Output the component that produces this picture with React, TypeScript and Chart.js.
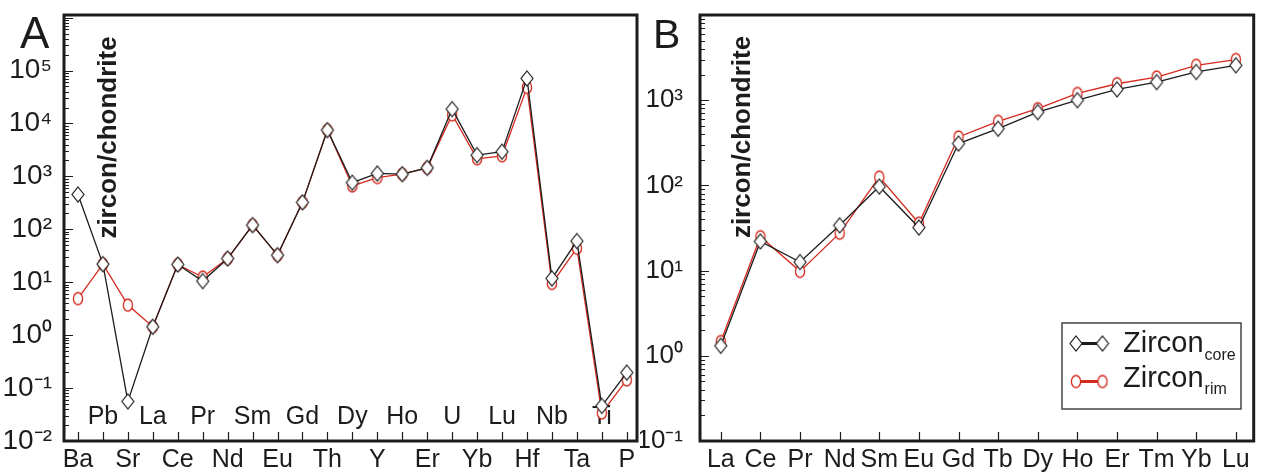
import React, { useEffect, useRef } from "react";
import { Chart, registerables } from "chart.js";
Chart.register(...registerables);

const FONT = '"Liberation Sans", Arial, Helvetica, sans-serif';
const INK = "#1c1c1c";
const RED = "#d42a1e";

// ---------- Panel A data ----------
const elementsA = ["Ba", "Pb", "Sr", "La", "Ce", "Pr", "Nd", "Sm", "Eu", "Gd", "Th", "Dy", "Y", "Ho", "Er", "U", "Yb", "Lu", "Hf", "Nb", "Ta", "Ti", "P"];
const coreA = [455, 22, 0.056, 1.44, 21.6, 10.5, 28, 120, 32.5, 323, 7500, 760, 1135, 1100, 1450, 18700, 2520, 2920, 71000, 11.8, 60, 0.046, 0.196];
const rimA = [4.9, 22, 3.7, 1.44, 21.6, 12.5, 28, 120, 32.5, 323, 7500, 660, 950, 1100, 1450, 14600, 2150, 2450, 48000, 9.5, 44, 0.034, 0.143];
const yExpA = [-2, -1, 0, 1, 2, 3, 4, 5];

// ---------- Panel B data ----------
const elementsB = ["La", "Ce", "Pr", "Nd", "Sm", "Eu", "Gd", "Tb", "Dy", "Ho", "Er", "Tm", "Yb", "Lu"];
const coreB = [1.31, 22, 12.6, 34, 97, 32, 310, 463, 725, 1000, 1340, 1630, 2150, 2570];
const rimB = [1.47, 25, 9.8, 27.5, 125, 36, 370, 565, 795, 1200, 1560, 1870, 2570, 3000];
const yExpB = [-1, 0, 1, 2, 3];

const yTitle = "zircon/chondrite";
const seriesNames = ["Zircon", "Zircon"];
const seriesSubs = ["core", "rim"];

const SUP: Record<string, string> = { "-": "⁻", "0": "⁰", "1": "¹", "2": "²", "3": "³", "4": "⁴", "5": "⁵", "6": "⁶" };
const powLabel = (e: number) => "10" + String(e).split("").map((c) => SUP[c]).join("");

function makeDiamond(w = 12, h = 15, lw = 1.2): HTMLCanvasElement {
  const c = document.createElement("canvas");
  const pad = 2;
  c.width = w + pad * 2;
  c.height = h + pad * 2;
  const g = c.getContext("2d")!;
  const cx = c.width / 2, cy = c.height / 2;
  g.beginPath();
  g.moveTo(cx, cy - h / 2);
  g.lineTo(cx + w / 2, cy);
  g.lineTo(cx, cy + h / 2);
  g.lineTo(cx - w / 2, cy);
  g.closePath();
  g.fillStyle = "#ffffff";
  g.fill();
  g.lineWidth = lw;
  g.strokeStyle = INK;
  g.stroke();
  return c;
}

function makeRing(rx = 4.6, ry = 6, lw = 1.3): HTMLCanvasElement {
  const c = document.createElement("canvas");
  c.width = Math.ceil(rx * 2 + 4);
  c.height = Math.ceil(ry * 2 + 4);
  const g = c.getContext("2d")!;
  g.beginPath();
  g.ellipse(c.width / 2, c.height / 2, rx, ry, 0, 0, Math.PI * 2);
  g.fillStyle = "#ffffff";
  g.fill();
  g.lineWidth = lw;
  g.strokeStyle = RED;
  g.stroke();
  return c;
}

type Panel = {
  key: string;
  elements: string[];
  core: number[];
  rim: number[];
  yExps: number[];
  yMin: number;
  yMax: number;
  xMin: number;
  xMax: number;
  canvasLeft: number;
  canvasWidth: number;
  plotLeft: number;
  plotRight: number;
  yTickPad: number;
  yFont: number;
  alternate: boolean;
  innerLabelY: number;
  letter: { text: string; x: number; y: number; size: number };
  title: { x: number; y: number };
  legend: boolean;
};

const panelA: Panel = {
  key: "A",
  elements: elementsA,
  core: coreA,
  rim: rimA,
  yExps: yExpA,
  yMin: 0.01,
  yMax: 1.12e6,
  xMin: -0.56,
  xMax: 22.41,
  canvasLeft: 0,
  canvasWidth: 650,
  plotLeft: 64,
  plotRight: 637,
  yTickPad: 12,
  yFont: 28,
  alternate: true,
  innerLabelY: 417,
  letter: { text: "A", x: 20, y: 48, size: 44 },
  title: { x: 116, y: 137.5 },
  legend: false,
};

const panelB: Panel = {
  key: "B",
  elements: elementsB,
  core: coreB,
  rim: rimB,
  yExps: yExpB,
  yMin: 0.1,
  yMax: 1e4,
  xMin: -0.525,
  xMax: 13.45,
  canvasLeft: 640,
  canvasWidth: 621,
  plotLeft: 700,
  plotRight: 1259,
  yTickPad: 17,
  yFont: 26,
  alternate: false,
  innerLabelY: 417,
  letter: { text: "B", x: 653, y: 48, size: 41 },
  title: { x: 750, y: 137 },
  legend: true,
};

const PLOT_TOP = 15;
const X_AXIS_H = 32;

function buildChart(canvas: HTMLCanvasElement, p: Panel, diamond: HTMLCanvasElement, ring: HTMLCanvasElement) {
  const n = p.elements.length;
  const ox = p.canvasLeft;
  const decor = {
    id: "decor" + p.key,
    beforeDatasetsDraw(chart: any) {
      const { ctx, chartArea: ca, scales } = chart;
      const xs = scales.x, ys = scales.y;
      ctx.save();
      ctx.strokeStyle = INK;
      ctx.lineWidth = 1.2;
      ctx.beginPath();
      for (let i = 0; i < n; i++) {
        const px = Math.round(xs.getPixelForValue(i)) + 0.5;
        ctx.moveTo(px, ca.bottom);
        ctx.lineTo(px, ca.bottom - 9);
      }
      const e0 = Math.floor(Math.log10(p.yMin));
      const e1 = Math.ceil(Math.log10(p.yMax));
      for (let e = e0; e <= e1; e++) {
        for (let m = 1; m <= 9; m++) {
          const v = m * Math.pow(10, e);
          const py = Math.round(ys.getPixelForValue(v)) + 0.5;
          if (py < ca.top + 2 || py > ca.bottom - 1) continue;
          const len = m === 1 ? 9 : 5;
          ctx.moveTo(ca.left, py);
          ctx.lineTo(ca.left + len, py);
        }
      }
      ctx.stroke();
      ctx.lineWidth = 3;
      ctx.strokeRect(ca.left, ca.top, ca.right - ca.left, ca.bottom - ca.top);

      ctx.fillStyle = INK;
      if (p.alternate) {
        ctx.font = `25px ${FONT}`;
        ctx.textAlign = "center";
        ctx.textBaseline = "middle";
        for (let i = 1; i < n; i += 2) {
          ctx.fillText(p.elements[i], xs.getPixelForValue(i), p.innerLabelY);
        }
      }
      // y title
      ctx.save();
      ctx.translate(p.title.x - ox, p.title.y);
      ctx.rotate(-Math.PI / 2);
      ctx.font = `bold 26px ${FONT}`;
      ctx.textAlign = "center";
      ctx.textBaseline = "alphabetic";
      ctx.fillText(yTitle, 0, 0);
      ctx.restore();
      // panel letter
      ctx.font = `${p.letter.size}px ${FONT}`;
      ctx.textAlign = "left";
      ctx.textBaseline = "alphabetic";
      ctx.fillText(p.letter.text, p.letter.x - ox, p.letter.y);
      ctx.restore();
    },
    afterDraw(chart: any) {
      if (!p.legend) return;
      const ctx = chart.ctx;
      ctx.save();
      ctx.translate(-ox, 0);
      ctx.strokeStyle = "#444";
      ctx.lineWidth = 1.5;
      ctx.strokeRect(1062, 323, 179, 86);
      const rows = [
        { y: 343.5, color: INK, img: diamond, base: 352, subBase: 360 },
        { y: 381.5, color: RED, img: ring, base: 387, subBase: 394 },
      ];
      const x1 = 1076, x2 = 1102.5;
      rows.forEach((r, i) => {
        ctx.strokeStyle = r.color;
        ctx.lineWidth = 3;
        ctx.beginPath();
        ctx.moveTo(x1, r.y);
        ctx.lineTo(x2, r.y);
        ctx.stroke();
        ctx.drawImage(r.img, x1 - r.img.width / 2, r.y - r.img.height / 2);
        ctx.drawImage(r.img, x2 - r.img.width / 2, r.y - r.img.height / 2);
        ctx.fillStyle = INK;
        ctx.textAlign = "left";
        ctx.textBaseline = "alphabetic";
        ctx.font = `29px ${FONT}`;
        ctx.fillText(seriesNames[i], 1123, r.base);
        const w = ctx.measureText(seriesNames[i]).width;
        ctx.font = `16px ${FONT}`;
        ctx.fillText(seriesSubs[i], 1123 + w + 1, r.subBase);
      });
      ctx.restore();
    },
  };

  return new Chart(canvas, {
    type: "line",
    data: {
      datasets: [
        {
          label: seriesNames[0] + seriesSubs[0],
          data: p.elements.map((_, i) => ({ x: i, y: p.core[i] })),
          borderColor: INK,
          borderWidth: 1.3,
          pointStyle: diamond as any,
          pointRadius: 6,
          tension: 0,
          clip: false as any,
        },
        {
          label: seriesNames[1] + seriesSubs[1],
          data: p.elements.map((_, i) => ({ x: i, y: p.rim[i] })),
          borderColor: RED,
          borderWidth: 1.3,
          pointStyle: ring as any,
          pointRadius: 5,
          tension: 0,
          clip: false as any,
        },
      ],
    },
    options: {
      animation: false,
      responsive: false,
      devicePixelRatio: 1,
      events: [],
      layout: { padding: { left: 0, top: PLOT_TOP, right: p.canvasLeft + p.canvasWidth - p.plotRight, bottom: 0 } },
      plugins: { legend: { display: false }, tooltip: { enabled: false } },
      scales: {
        x: {
          type: "linear",
          min: p.xMin,
          max: p.xMax,
          afterFit: (s: any) => {
            s.height = X_AXIS_H;
            s.paddingLeft = 0;
            s.paddingRight = 0;
            s.paddingTop = 0;
            s.paddingBottom = 0;
          },
          grid: { display: false, drawTicks: false },
          border: { display: false },
          ticks: {
            stepSize: 1,
            autoSkip: false,
            maxRotation: 0,
            minRotation: 0,
            includeBounds: false,
            padding: 4,
            color: INK,
            font: { family: FONT, size: 25 },
            callback: (v: any) => {
              const i = Number(v);
              if (!Number.isInteger(i) || i < 0 || i >= n) return "";
              if (p.alternate && i % 2 === 1) return "";
              return p.elements[i];
            },
          },
        },
        y: {
          type: "logarithmic",
          min: p.yMin,
          max: p.yMax,
          afterFit: (s: any) => {
            s.width = p.plotLeft - p.canvasLeft;
            s.paddingLeft = 0;
            s.paddingRight = 0;
            s.paddingTop = 0;
            s.paddingBottom = 0;
          },
          grid: { display: false, drawTicks: false },
          border: { display: false },
          ticks: {
            autoSkip: false,
            padding: p.yTickPad,
            color: INK,
            font: { family: FONT, size: p.yFont },
            callback: (v: any) => {
              const lv = Math.log10(Number(v));
              const e = Math.round(lv);
              if (Math.abs(lv - e) < 1e-6 && p.yExps.includes(e)) return powLabel(e);
              return "";
            },
          },
        },
      },
    },
    plugins: [decor],
  } as any);
}

export default function App() {
  const refA = useRef<HTMLCanvasElement>(null);
  const refB = useRef<HTMLCanvasElement>(null);
  useEffect(() => {
    const diamond = makeDiamond();
    const ring = makeRing();
    const a = buildChart(refA.current!, panelA, diamond, ring);
    const b = buildChart(refB.current!, panelB, diamond, ring);
    return () => {
      a.destroy();
      b.destroy();
    };
  }, []);
  return (
    <div style={{ position: "fixed", left: 0, top: 0, width: 1261, height: 473, background: "#fff", overflow: "hidden" }}>
      <canvas ref={refA} width={panelA.canvasWidth} height={473} style={{ position: "absolute", left: panelA.canvasLeft, top: 0, width: panelA.canvasWidth, height: 473 }} />
      <canvas ref={refB} width={panelB.canvasWidth} height={473} style={{ position: "absolute", left: panelB.canvasLeft, top: 0, width: panelB.canvasWidth, height: 473 }} />
    </div>
  );
}
